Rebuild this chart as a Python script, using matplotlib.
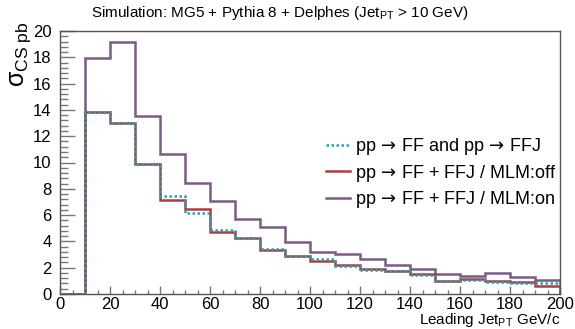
import numpy as np
from matplotlib import pyplot as plt
from matplotlib.ticker import MultipleLocator

plt.rcParams['font.family'] = ['Liberation Sans', 'DejaVu Sans']
plt.rcParams['mathtext.fontset'] = 'custom'
plt.rcParams['mathtext.rm'] = 'Liberation Sans'
plt.rcParams['mathtext.it'] = 'Liberation Sans'
plt.rcParams['mathtext.sf'] = 'DejaVu Sans'

# bin edges of leading jet pT (GeV/c)
bin_edges = np.arange(0, 201, 10)

# cross sections per bin (pb), first bin (0-10) empty
xs_ff_and_ffj = [0, 13.85, 13.0, 9.9, 7.45, 6.18, 4.86, 4.25, 3.45, 2.86, 2.66,
                 2.15, 1.83, 1.72, 1.45, 1.0, 1.06, 0.94, 0.81, 0.81]
xs_mlm_off = [0, 13.85, 12.98, 9.9, 7.15, 6.44, 4.71, 4.28, 3.35, 2.91, 2.51,
              2.2, 1.88, 1.75, 1.5, 1.01, 1.12, 0.99, 0.91, 0.62]
xs_mlm_on = [0, 17.98, 19.14, 13.51, 10.66, 8.45, 7.08, 5.72, 5.13, 3.99, 3.21,
             3.02, 2.65, 2.2, 1.93, 1.5, 1.37, 1.57, 1.27, 1.03]

arr = r'$\,\mathsf{\rightarrow}\,$'
labels = ['pp' + arr + 'FF and pp' + arr + 'FFJ',
          'pp' + arr + 'FF + FFJ / MLM:off',
          'pp' + arr + 'FF + FFJ / MLM:on']

fig = plt.figure(figsize=(5.75, 3.29), dpi=100)
ax = fig.add_axes([60 / 575, 1 - 294 / 329, 500 / 575, 263 / 329])

ax.stairs(xs_mlm_on, bin_edges, color='#7b5a85', lw=1.8, label=labels[2], zorder=2)
ax.stairs(xs_mlm_off, bin_edges, color='#b33b3b', lw=1.8, label=labels[1], zorder=3)
ax.stairs(xs_ff_and_ffj, bin_edges, color='#1aa6bb', lw=1.8, ls=(0, (1, 1)),
          label=labels[0], zorder=4)

ax.set_xlim(0, 200)
ax.set_ylim(0, 20)

ax.xaxis.set_major_locator(MultipleLocator(20))
ax.xaxis.set_minor_locator(MultipleLocator(5))
ax.yaxis.set_major_locator(MultipleLocator(2))
ax.yaxis.set_minor_locator(MultipleLocator(0.4))

ax.tick_params(axis='both', which='both', direction='in', color='#777777', width=1,
               labelsize=12, top=False, right=False)
ax.tick_params(axis='x', which='major', length=5.8, pad=2)
ax.tick_params(axis='x', which='minor', length=2.9)
ax.tick_params(axis='y', which='major', length=10.8, pad=6)
ax.tick_params(axis='y', which='minor', length=5.4)
for sp in ax.spines.values():
    sp.set_color('#555555')
    sp.set_linewidth(1)

ax.set_xlabel(r'Leading Jet$_{\mathrm{PT}}$ GeV/c', fontsize=11, ha='right', va='center')
ax.xaxis.set_label_coords(1.0, -0.098)
ax.set_ylabel(r'$\sigma_{\mathrm{CS\ pb}}$', loc='top', fontsize=18)
ax.yaxis.set_label_coords(-0.054, 1.034)

fig.text(280 / 575, 1 - 13 / 329,
         r'Simulation: MG5 + Pythia 8 + Delphes (Jet$_{\mathrm{PT}}$ > 10 GeV)',
         ha='center', va='center', fontsize=11)

handles, labs = ax.get_legend_handles_labels()
order = [2, 1, 0]
ax.legend([handles[i] for i in order], [labs[i] for i in order],
          loc='upper left', bbox_to_anchor=(0.532, 0.6), frameon=False,
          fontsize=13, handlelength=1.35, handletextpad=0.25, labelspacing=0.3,
          borderpad=0, borderaxespad=0)

plt.savefig('out.png', dpi=100)
